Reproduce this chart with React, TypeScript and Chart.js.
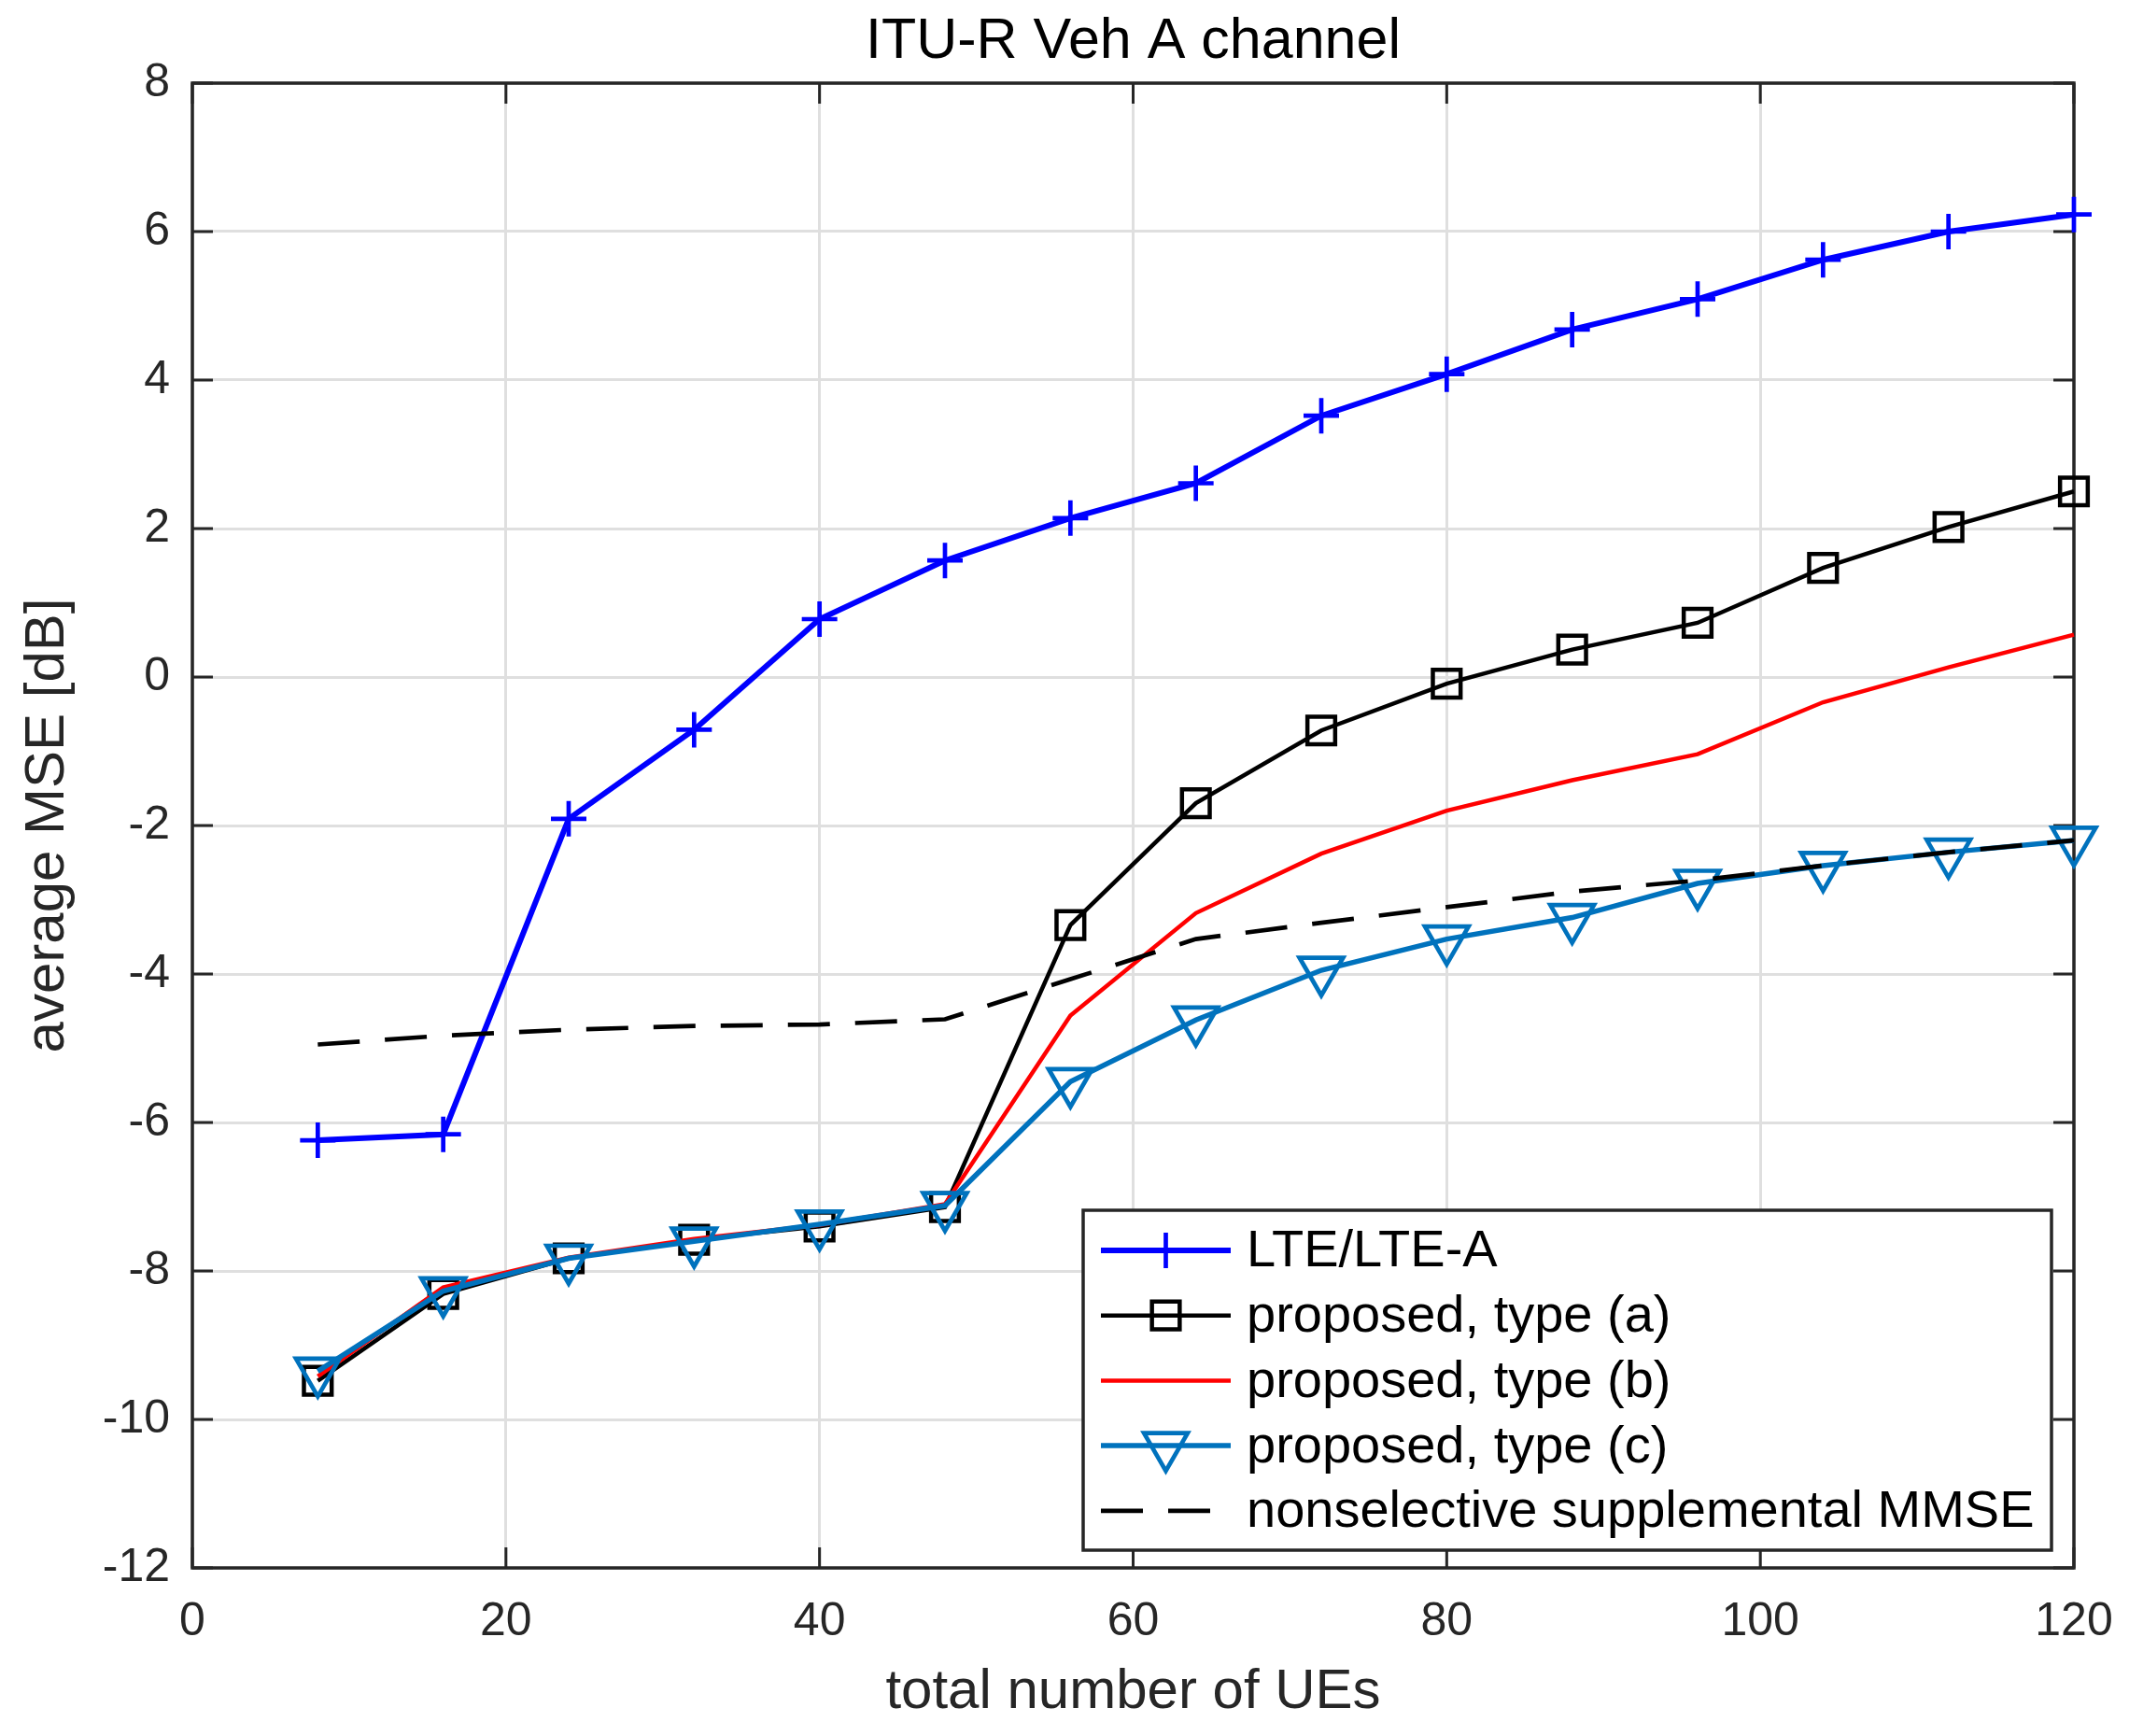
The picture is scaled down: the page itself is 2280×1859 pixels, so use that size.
import React, { useEffect, useRef } from "react";
import { Chart, registerables } from "chart.js";

Chart.register(...registerables);

// number of UEs on the x axis
const ueCounts = [8, 16, 24, 32, 40, 48, 56, 64, 72, 80, 88, 96, 104, 112, 120];

// average MSE [dB] per series
const lteMse = [-6.24, -6.16, -1.91, -0.71, 0.78, 1.57, 2.14, 2.61, 3.52, 4.08, 4.68, 5.09, 5.62, 6.0, 6.23];
const typeAMse = [-9.48, -8.31, -7.83, -7.58, -7.4, -7.14, -3.34, -1.7, -0.72, -0.09, 0.37, 0.73, 1.47, 2.02, 2.5];
const typeBMse = [-9.42, -8.22, -7.82, -7.57, -7.38, -7.1, -4.56, -3.18, -2.38, -1.8, -1.39, -1.04, -0.34, 0.13, 0.57];
const typeCMse = [-9.35, -8.27, -7.83, -7.6, -7.37, -7.12, -5.45, -4.62, -3.95, -3.53, -3.24, -2.78, -2.54, -2.36, -2.2];
const mmseMse = [-4.95, -4.83, -4.75, -4.7, -4.68, -4.61, -4.07, -3.53, -3.31, -3.1, -2.89, -2.74, -2.54, -2.36, -2.2];

const seriesLabels = [
  "LTE/LTE-A",
  "proposed, type (a)",
  "proposed, type (b)",
  "proposed, type (c)",
  "nonselective supplemental MMSE",
];

const xTickValues = [0, 20, 40, 60, 80, 100, 120];
const yTickValues = [-12, -10, -8, -6, -4, -2, 0, 2, 4, 6, 8];

const chartTitle = "ITU-R Veh A channel";
const xLabel = "total number of UEs";
const yLabel = "average MSE [dB]";

const FONT = '"Liberation Sans", Arial, Helvetica, sans-serif';
const AXIS_COLOR = "#262626";
const GRID_COLOR = "#dfdfdf";

const toPoints = (ys: number[]) => ys.map((y, i) => ({ x: ueCounts[i], y }));

function drawMarker(ctx: CanvasRenderingContext2D, ds: any, x: number, y: number) {
  const r = ds.pointRadius;
  if (!r) return;
  ctx.save();
  ctx.strokeStyle = ds.pointBorderColor || ds.borderColor;
  ctx.lineWidth = ds.pointBorderWidth;
  ctx.setLineDash([]);
  ctx.beginPath();
  if (ds.pointStyle === "cross") {
    ctx.moveTo(x - r, y);
    ctx.lineTo(x + r, y);
    ctx.moveTo(x, y - r);
    ctx.lineTo(x, y + r);
  } else if (ds.pointStyle === "rect") {
    const s = Math.SQRT1_2 * r;
    ctx.rect(x - s, y - s, 2 * s, 2 * s);
  } else if (ds.pointStyle === "triangle") {
    let a = ((ds.pointRotation || 0) * Math.PI) / 180;
    ctx.moveTo(x + Math.sin(a) * r, y - Math.cos(a) * r);
    a += (2 * Math.PI) / 3;
    ctx.lineTo(x + Math.sin(a) * r, y - Math.cos(a) * r);
    a += (2 * Math.PI) / 3;
    ctx.lineTo(x + Math.sin(a) * r, y - Math.cos(a) * r);
    ctx.closePath();
  }
  ctx.stroke();
  ctx.restore();
}

const matlabFrame = {
  id: "matlabFrame",
  beforeDatasetsDraw(chart: any) {
    const { ctx, chartArea: a, scales } = chart;
    const tl = 22;
    ctx.save();
    ctx.strokeStyle = AXIS_COLOR;
    ctx.lineWidth = 3;
    ctx.beginPath();
    for (const v of xTickValues) {
      const px = scales.x.getPixelForValue(v);
      ctx.moveTo(px, a.bottom);
      ctx.lineTo(px, a.bottom - tl);
      ctx.moveTo(px, a.top);
      ctx.lineTo(px, a.top + tl);
    }
    for (const v of yTickValues) {
      const py = scales.y.getPixelForValue(v);
      ctx.moveTo(a.left, py);
      ctx.lineTo(a.left + tl, py);
      ctx.moveTo(a.right, py);
      ctx.lineTo(a.right - tl, py);
    }
    ctx.stroke();
    ctx.lineWidth = 3.5;
    ctx.strokeRect(a.left, a.top, a.right - a.left, a.bottom - a.top);
    ctx.restore();
  },
  afterDraw(chart: any) {
    const { ctx, chartArea: a } = chart;
    ctx.save();

    // title
    ctx.fillStyle = "#000000";
    ctx.font = `61px ${FONT}`;
    ctx.textAlign = "center";
    ctx.textBaseline = "middle";
    ctx.fillText(chartTitle, (a.left + a.right) / 2, 45);

    // legend box, lower right inside the axes
    const boxRight = a.right - 24;
    const boxBottom = a.bottom - 19;
    const boxW = 1037;
    const boxH = 364;
    const boxLeft = boxRight - boxW;
    const boxTop = boxBottom - boxH;
    ctx.fillStyle = "#ffffff";
    ctx.fillRect(boxLeft, boxTop, boxW, boxH);
    ctx.strokeStyle = AXIS_COLOR;
    ctx.lineWidth = 3.5;
    ctx.strokeRect(boxLeft, boxTop, boxW, boxH);

    const rowStep = 69.7;
    const firstRow = boxTop + 43;
    const lineX0 = boxLeft + 19;
    const lineX1 = boxLeft + 158;
    const textX = boxLeft + 175;
    chart.data.datasets.forEach((ds: any, i: number) => {
      const y = firstRow + i * rowStep;
      ctx.save();
      ctx.strokeStyle = ds.borderColor;
      ctx.lineWidth = ds.borderWidth;
      ctx.setLineDash(ds.borderDash || []);
      ctx.beginPath();
      ctx.moveTo(lineX0, y);
      ctx.lineTo(lineX1, y);
      ctx.stroke();
      ctx.restore();
      drawMarker(ctx, ds, (lineX0 + lineX1) / 2, y);
      ctx.fillStyle = "#000000";
      ctx.font = `56px ${FONT}`;
      ctx.textAlign = "left";
      ctx.textBaseline = "middle";
      ctx.fillText(ds.label, textX, y + 2);
    });
    ctx.restore();
  },
};

export default function App() {
  const canvasRef = useRef<HTMLCanvasElement | null>(null);

  useEffect(() => {
    const datasets: any[] = [
      {
        label: seriesLabels[0],
        data: toPoints(lteMse),
        borderColor: "#0000ff",
        borderWidth: 6,
        pointStyle: "cross",
        pointRadius: 19,
        pointBorderWidth: 4.7,
        pointBorderColor: "#0000ff",
        order: 5,
      },
      {
        label: seriesLabels[1],
        data: toPoints(typeAMse),
        borderColor: "#000000",
        borderWidth: 4.5,
        pointStyle: "rect",
        pointRadius: 21,
        pointBorderWidth: 4.5,
        pointBorderColor: "#000000",
        pointBackgroundColor: "rgba(0,0,0,0)",
        order: 4,
      },
      {
        label: seriesLabels[2],
        data: toPoints(typeBMse),
        borderColor: "#ff0000",
        borderWidth: 4.5,
        pointRadius: 0,
        order: 3,
      },
      {
        label: seriesLabels[3],
        data: toPoints(typeCMse),
        borderColor: "#0072bd",
        borderWidth: 5.5,
        pointStyle: "triangle",
        pointRadius: 27,
        pointRotation: 180,
        pointBorderWidth: 4.7,
        pointBorderColor: "#0072bd",
        pointBackgroundColor: "rgba(0,0,0,0)",
        order: 2,
      },
      {
        label: seriesLabels[4],
        data: toPoints(mmseMse),
        borderColor: "#000000",
        borderWidth: 4.7,
        borderDash: [45, 27],
        pointRadius: 0,
        order: 1,
      },
    ];
    datasets.forEach((d) => {
      d.fill = false;
      d.tension = 0;
      d.clip = false;
      d.pointHoverRadius = d.pointRadius;
    });

    const tickFont = { family: FONT, size: 50 };
    const labelFont = { family: FONT, size: 60 };

    const chart = new Chart(canvasRef.current!.getContext("2d")!, {
      type: "line",
      data: { datasets },
      options: {
        animation: false,
        responsive: false,
        devicePixelRatio: 1,
        layout: { padding: { top: 89, right: 59, left: 0, bottom: 0 } },
        plugins: {
          legend: { display: false },
          tooltip: { enabled: false },
          title: { display: false },
        },
        scales: {
          x: {
            type: "linear",
            min: 0,
            max: 120,
            afterBuildTicks: (scale: any) => {
              scale.ticks = xTickValues.map((v) => ({ value: v }));
            },
            afterFit: (scale: any) => {
              scale.height = 180;
              scale.paddingLeft = 0;
              scale.paddingRight = 0;
            },
            grid: { color: GRID_COLOR, lineWidth: 3, drawTicks: false },
            border: { display: false },
            ticks: {
              font: tickFont,
              color: AXIS_COLOR,
              padding: 28,
              maxRotation: 0,
              autoSkip: false,
            },
            title: {
              display: true,
              text: xLabel,
              font: labelFont,
              color: AXIS_COLOR,
              padding: { top: 0, bottom: 11 },
            },
          },
          y: {
            type: "linear",
            min: -12,
            max: 8,
            afterBuildTicks: (scale: any) => {
              scale.ticks = yTickValues.map((v) => ({ value: v }));
            },
            afterFit: (scale: any) => {
              scale.width = 206;
              scale.paddingTop = 0;
              scale.paddingBottom = 0;
            },
            grid: { color: GRID_COLOR, lineWidth: 3, drawTicks: false },
            border: { display: false },
            ticks: {
              font: tickFont,
              color: AXIS_COLOR,
              padding: 24,
              autoSkip: false,
            },
            title: {
              display: true,
              text: yLabel,
              font: labelFont,
              color: AXIS_COLOR,
              padding: { top: 15, bottom: 0 },
            },
          },
        },
      } as any,
      plugins: [matlabFrame],
    });

    return () => {
      chart.destroy();
    };
  }, []);

  return (
    <div style={{ position: "absolute", left: 0, top: 0, width: 2280, height: 1859, background: "#ffffff" }}>
      <canvas
        ref={canvasRef}
        width={2280}
        height={1859}
        style={{ display: "block", width: 2280, height: 1859 }}
      />
    </div>
  );
}
